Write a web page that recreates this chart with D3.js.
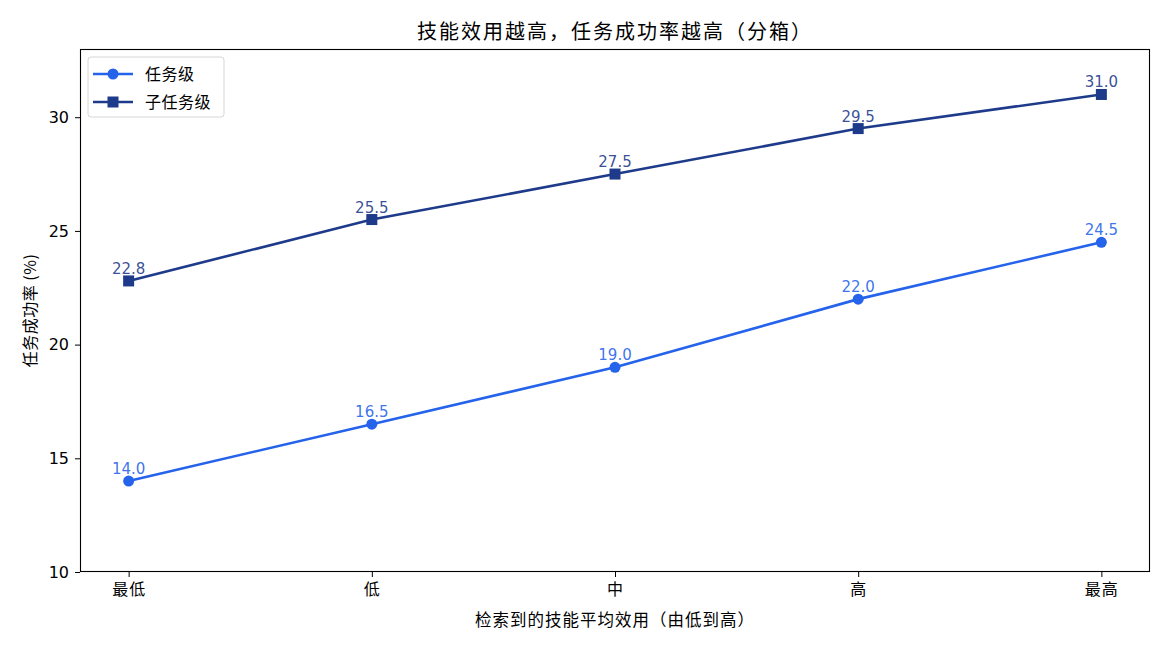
<!DOCTYPE html>
<html>
<head>
<meta charset="utf-8">
<script src="https://cdn.jsdelivr.net/npm/d3@7"></script>
<style>
  body { margin: 0; background: #fff; }
  text { font-family: "DejaVu Sans", "Noto Sans CJK SC", sans-serif; }
  .cjk { font-family: "Noto Sans CJK SC", sans-serif; }
</style>
</head>
<body>
<div id="chart"></div>
<script>
// Data
const categories = ["最低", "低", "中", "高", "最高"];
const taskLevel = [14.0, 16.5, 19.0, 22.0, 24.5];
const subtaskLevel = [22.8, 25.5, 27.5, 29.5, 31.0];
const yTicks = [10, 15, 20, 25, 30];
const seriesNames = ["任务级", "子任务级"];

const width = 1170, height = 650;
const margin = { left: 80, right: 20, top: 49, bottom: 78 };
const taskColor = "#2563eb";
const subColor = "#1e3a8a";

const svg = d3.select("#chart").append("svg")
  .attr("width", width)
  .attr("height", height);

const x = d3.scaleLinear()
  .domain([-0.2, categories.length - 1 + 0.2])
  .range([margin.left, width - margin.right]);

const y = d3.scaleLinear()
  .domain([10, 33])
  .range([height - margin.bottom, margin.top]);

// axes
const xAxis = svg.append("g")
  .attr("transform", `translate(0,${height - margin.bottom})`)
  .call(d3.axisBottom(x).tickValues(d3.range(categories.length))
    .tickFormat(i => categories[i]).tickSize(5).tickPadding(7).tickSizeOuter(0));
xAxis.selectAll("text").attr("class", "cjk").style("font-size", "16px")
  .style("letter-spacing", "1px").attr("fill", "#000");

const yAxis = svg.append("g")
  .attr("transform", `translate(${margin.left},0)`)
  .call(d3.axisLeft(y).tickValues(yTicks).tickSize(5).tickPadding(6).tickSizeOuter(0));
yAxis.selectAll("text").style("font-size", "16px").attr("fill", "#000");
svg.selectAll(".domain").remove();
svg.selectAll(".tick line").attr("stroke", "#000");

// frame
svg.append("rect")
  .attr("x", margin.left + 0.5).attr("y", margin.top + 0.5)
  .attr("width", width - margin.left - margin.right - 1)
  .attr("height", height - margin.top - margin.bottom - 1)
  .attr("fill", "none").attr("stroke", "#000").attr("stroke-width", 1.1);

// title and labels
svg.append("text").attr("class", "cjk")
  .attr("x", (margin.left + width - margin.right) / 2).attr("y", 39)
  .attr("text-anchor", "middle").style("font-size", "20px").style("letter-spacing", "2px")
  .text("技能效用越高，任务成功率越高（分箱）");

svg.append("text").attr("class", "cjk")
  .attr("x", (margin.left + width - margin.right) / 2).attr("y", 626)
  .attr("text-anchor", "middle").style("font-size", "16.5px").style("letter-spacing", "1px")
  .text("检索到的技能平均效用（由低到高）");

svg.append("text").attr("class", "cjk")
  .attr("transform", `translate(36,${(margin.top + height - margin.bottom) / 2}) rotate(-90)`)
  .attr("text-anchor", "middle").style("font-size", "16px").style("letter-spacing", "0.5px")
  .text("任务成功率 (%)");

const line = d3.line().x((d, i) => x(i)).y(d => y(d));

function drawSeries(values, color, marker) {
  svg.append("path").datum(values)
    .attr("d", line).attr("fill", "none")
    .attr("stroke", color).attr("stroke-width", 2.6);
  if (marker === "circle") {
    svg.selectAll(null).data(values).join("circle")
      .attr("cx", (d, i) => x(i)).attr("cy", d => y(d))
      .attr("r", 5.5).attr("fill", color);
  } else {
    svg.selectAll(null).data(values).join("rect")
      .attr("x", (d, i) => x(i) - 5.5).attr("y", d => y(d) - 5.5)
      .attr("width", 11).attr("height", 11).attr("fill", color);
  }
  svg.selectAll(null).data(values).join("text")
    .attr("x", (d, i) => x(i)).attr("y", d => y(d) - 7)
    .attr("text-anchor", "middle").style("font-size", "15px")
    .attr("fill", color).attr("fill-opacity", 0.9)
    .text(d => d.toFixed(1));
}

drawSeries(taskLevel, taskColor, "circle");
drawSeries(subtaskLevel, subColor, "square");

// legend
const lg = svg.append("g").attr("transform", "translate(88,57)");
lg.append("rect").attr("width", 136).attr("height", 60).attr("rx", 3)
  .attr("fill", "#fff").attr("fill-opacity", 0.8)
  .attr("stroke", "#d6d6d6").attr("stroke-width", 1);
[[taskColor, "circle"], [subColor, "square"]].forEach(([c, m], i) => {
  const cy = 17 + i * 28;
  lg.append("line").attr("x1", 5).attr("x2", 45).attr("y1", cy).attr("y2", cy)
    .attr("stroke", c).attr("stroke-width", 2.6);
  if (m === "circle") {
    lg.append("circle").attr("cx", 25).attr("cy", cy).attr("r", 5.5).attr("fill", c);
  } else {
    lg.append("rect").attr("x", 19.5).attr("y", cy - 5.5).attr("width", 11).attr("height", 11).attr("fill", c);
  }
  lg.append("text").attr("class", "cjk").attr("x", 57).attr("y", cy + 6)
    .style("font-size", "16px").style("letter-spacing", "0.5px").text(seriesNames[i]);
});
</script>
</body>
</html>
